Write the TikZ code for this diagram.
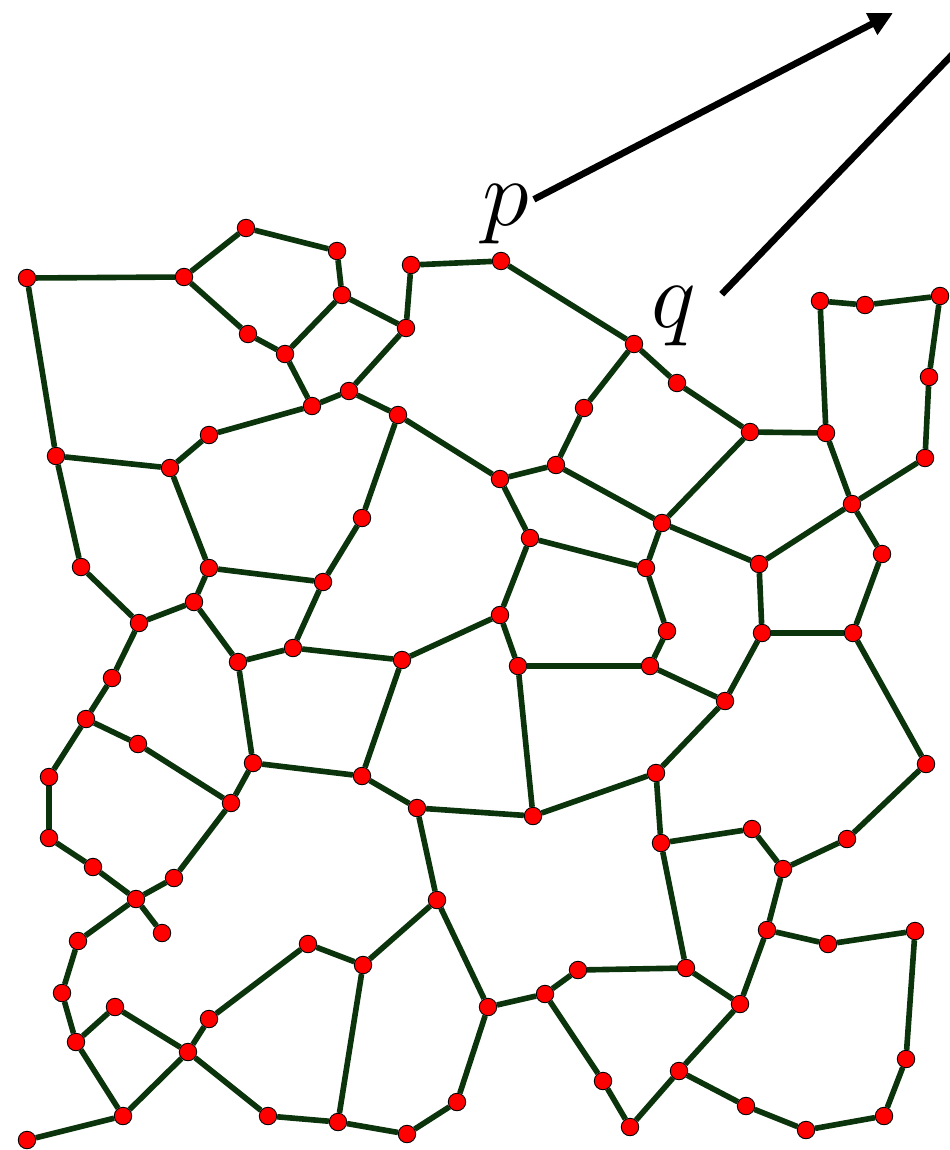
\documentclass[tikz,border=0pt]{standalone}
\usepackage{amsmath, amssymb}
\usepackage{xcolor}
\usetikzlibrary{arrows.meta,backgrounds}

\definecolor{edgegreen}{RGB}{12,52,12}

\begin{document}
\begin{tikzpicture}[x=0.02cm,y=-0.02cm,>={Triangle[length=0.48cm,width=0.46cm]},
  vertex/.style={circle, fill=red, draw=black, line width=0.5pt, minimum size=0.35cm, inner sep=0pt},
  edge/.style={edgegreen, line width=3.2pt},
  lbl/.style={inner sep=1pt, font=\Huge, scale=2.17},
  pqline/.style={black, line width=3.8pt}]
  % Frame
  \useasboundingbox (0,0) rectangle (950,1150);
  \clip (0,0) rectangle (950,1150);
  % Vertices
  \foreach \n/\x/\y in {
    a1/27/278, a2/184/277, a3/246/228, a4/337/251, a5/342/295, a6/411/265,
    a7/406/328, a8/248/334, a9/285/354, a10/312/406, a11/349/391, a12/398/415,
    a13/209/435, a14/56/456, a15/170/468, a16/362/518,
    b1/501/261, b2/634/344, b3/677/383, b4/584/408, b5/750/432, b6/826/433,
    b7/820/301, b8/865/305, b9/940/296, b10/929/377, b11/925/458, b12/852/504,
    b13/556/465, b14/500/479, b15/662/523,
    c1/81/567, c2/209/568, c3/323/582, c4/194/602, c5/139/623, c6/238/662,
    c7/293/648, c8/402/660, c9/112/678, c10/86/719, c11/138/744, c12/49/777,
    c13/253/763, c14/362/776, c15/231/803, c16/417/808, c17/49/838,
    d1/530/538, d3/646/568, d4/759/564, d5/882/554, d6/500/615, d7/667/631,
    d8/762/633, d9/853/633, d10/518/666, d11/650/666, d12/725/701, d13/656/773,
    d14/926/764, d15/533/816, d16/752/829, d17/847/839, d18/661/843,
    e2/93/867, e3/136/899, e4/174/878, e5/162/933, e6/78/941, e7/62/993,
    e8/115/1007, e9/76/1042, e10/188/1052, e11/209/1019, e12/308/944,
    e13/363/965, e14/437/900, e15/123/1116, e16/27/1140, e17/268/1116,
    e18/338/1122, e19/407/1134, e20/457/1102,
    f2/783/869, f4/767/930, f5/828/944, f6/915/931, f7/578/970, f8/686/968,
    f9/545/994, f10/488/1007, f11/740/1004, f12/603/1081, f13/679/1071,
    f14/630/1127, f15/746/1106, f16/806/1130, f17/884/1116, f18/906/1059}
    \node[vertex] (\n) at (\x,\y) {};
  % Edges
  \begin{pgfonlayer}{background}
  \foreach \u/\v in {
    a1/a2, a1/a14, a2/a3, a3/a4, a4/a5, a2/a8, a8/a9, a9/a5, a5/a7, a6/a7,
    a6/b1, a7/a11, a9/a10, a10/a11, a11/a12, a10/a13, a13/a15, a15/a14,
    a12/a16, a12/b14, a14/c1, a15/c2,
    b1/b2, b2/b3, b3/b5, b2/b4, b4/b13, b13/b14, b13/b15, b5/b15, b5/b6,
    b6/b7, b7/b8, b8/b9, b9/b10, b10/b11, b11/b12, b6/b12, b12/d4, b12/d5,
    b14/d1, b15/d3, b15/d4,
    c1/c5, c2/c4, c2/c3, c3/a16, c4/c5, c4/c6, c5/c9, c9/c10, c10/c11,
    c11/c15, c10/c12, c12/c17, c6/c7, c7/c3, c7/c8, c8/d6, c6/c13, c13/c14,
    c8/c14, c13/c15, c14/c16, c16/d15, c16/e14, c15/e4, c17/e2,
    d1/d3, d1/d6, d3/d7, d7/d11, d6/d10, d10/d11, d11/d12, d12/d8, d8/d4,
    d5/d9, d8/d9, d9/d14, d10/d15, d15/d13, d12/d13, d13/d18, d18/d16,
    d16/f2, d14/d17, d17/f2, d18/f8,
    e2/e3, e3/e4, e3/e5, e3/e6, e6/e7, e7/e9, e9/e8, e8/e10, e10/e11,
    e11/e12, e12/e13, e13/e14, e9/e15, e15/e10, e15/e16, e10/e17, e17/e18,
    e18/e13, e18/e19, e19/e20, e20/f10, e14/f10,
    f2/f4, f4/f5, f5/f6, f6/f18, f18/f17, f17/f16, f16/f15, f15/f13,
    f13/f11, f11/f4, f11/f8, f8/f7, f7/f9, f9/f10, f9/f12, f12/f14, f14/f13}
    \draw[edge] (\u) -- (\v);
  \end{pgfonlayer}
  % Labels
  \node[lbl, anchor=base] (p) at (506,225) {$p$};
  \node[lbl, anchor=base] (q) at (674,327) {$q$};
  % Arrows
  \coordinate (ptip) at (893,13);
  \coordinate (qend) at (1000,5);
  \draw[pqline,->] (p) -- (ptip);
  \draw[pqline, shorten <=0.6cm] (q.east) -- (qend);
\end{tikzpicture}
\end{document}
